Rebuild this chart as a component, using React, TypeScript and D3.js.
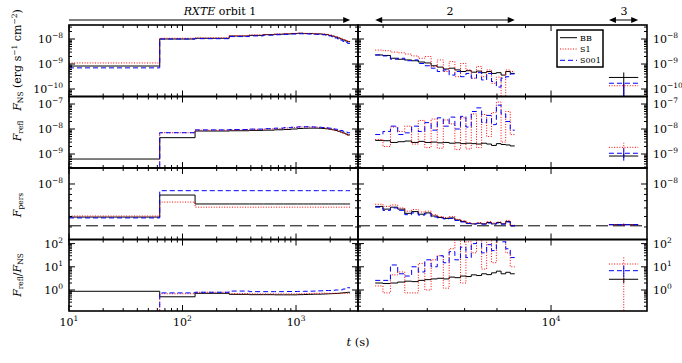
import React from "react";
import * as d3 from "d3";

// time bin edges (s)
const orbit1Edges = [10, 63, 129, 258, 387, 516, 645, 774, 903, 1032, 1161, 1290, 1419, 1548, 1677, 1806, 1935, 2064, 2193, 2322, 2451, 2580, 2709, 2838, 2990];
const orbit2Edges = [4840, 4997, 5154, 5311, 5468, 5625, 5782, 5939, 6096, 6253, 6410, 6567, 6724, 6881, 7038, 7195, 7352, 7509, 7666, 7823, 7980, 8137, 8294, 8451, 8608];
const orbit3Edges = [12700, 14330];
const orbit3Mid = 13500;

const seriesNames = ["BB", "S1", "S001"];

// F_NS
const nsBB1 = [8.3e-10, 1.0e-8, 1.07e-8, 1.32e-8, 1.4e-8, 1.49e-8, 1.55e-8, 1.6e-8, 1.65e-8, 1.7e-8, 1.65e-8, 1.65e-8, 1.6e-8, 1.6e-8, 1.55e-8, 1.5e-8, 1.4e-8, 1.3e-8, 1.2e-8, 1.1e-8, 1.0e-8, 9.1e-9, 8.3e-9, 7.8e-9];
const nsS1_1 = [1.1e-9, 1.07e-8, 1.1e-8, 1.35e-8, 1.45e-8, 1.52e-8, 1.58e-8, 1.63e-8, 1.68e-8, 1.72e-8, 1.68e-8, 1.68e-8, 1.63e-8, 1.63e-8, 1.58e-8, 1.53e-8, 1.43e-8, 1.33e-8, 1.23e-8, 1.13e-8, 1.03e-8, 9.5e-9, 8.7e-9, 8.0e-9];
const nsS001_1 = [7e-10, 1.0e-8, 1.03e-8, 1.25e-8, 1.33e-8, 1.42e-8, 1.48e-8, 1.53e-8, 1.58e-8, 1.62e-8, 1.6e-8, 1.58e-8, 1.55e-8, 1.52e-8, 1.48e-8, 1.43e-8, 1.33e-8, 1.22e-8, 1.1e-8, 1.0e-8, 9.0e-9, 8.0e-9, 7.3e-9, 6.7e-9];
const nsBB2 = [2.3e-9, 2.2e-9, 1.7e-9, 1.55e-9, 1.45e-9, 1.35e-9, 1.2e-9, 1.1e-9, 8.5e-10, 7.5e-10, 6.3e-10, 6.8e-10, 5.8e-10, 5e-10, 5.4e-10, 4.7e-10, 5.2e-10, 4.5e-10, 5e-10, 4.2e-10, 4.5e-10, 3.6e-10, 5e-10, 4.2e-10];
const nsS1_2 = [3.6e-9, 3.4e-9, 3.0e-9, 2.8e-9, 2.5e-9, 2.1e-9, 1.7e-9, 2.0e-9, 8e-10, 1.45e-9, 5e-10, 1.25e-9, 3.1e-10, 1.05e-9, 5.8e-10, 2.7e-10, 8e-10, 3.1e-10, 5.8e-10, 1.7e-10, 3e-10, 1e-11, 5.8e-10, 5e-10];
const nsS001_2 = [2.3e-9, 2.1e-9, 1.55e-9, 1.7e-9, 1.35e-9, 1.45e-9, 1.05e-9, 8.5e-10, 6.8e-10, 5e-10, 5.8e-10, 3.6e-10, 5e-10, 3.1e-10, 4.2e-10, 2.7e-10, 4.5e-10, 2.3e-10, 4.2e-10, 2e-10, 1.2e-10, 2.7e-10, 3.1e-10, 4e-10];
const nsO3 = [2.9e-10, 1.35e-10, 1.7e-10];
const nsO3Err = [[1e-11, 4.6e-10], [1e-11, 1.5e-10], [1e-11, 1.8e-10]];

// F_refl
const reflBB1 = [6.3e-10, 4.5e-9, 8.3e-9, 8.5e-9, 8.8e-9, 9.0e-9, 9.3e-9, 9.6e-9, 1.0e-8, 1.05e-8, 1.07e-8, 1.08e-8, 1.08e-8, 1.07e-8, 1.05e-8, 1.02e-8, 9.8e-9, 9.3e-9, 8.7e-9, 8.1e-9, 7.5e-9, 6.9e-9, 6.3e-9, 5.8e-9];
const reflS1_1 = [1e-11, 7.1e-9, 9.0e-9, 9.3e-9, 9.7e-9, 1.0e-8, 1.05e-8, 1.1e-8, 1.15e-8, 1.2e-8, 1.2e-8, 1.2e-8, 1.18e-8, 1.15e-8, 1.12e-8, 1.08e-8, 1.03e-8, 9.7e-9, 9.0e-9, 8.3e-9, 7.5e-9, 6.8e-9, 6.1e-9, 5.5e-9];
const reflS001_1 = [1e-11, 7.1e-9, 9.2e-9, 9.5e-9, 9.9e-9, 1.03e-8, 1.08e-8, 1.13e-8, 1.18e-8, 1.22e-8, 1.23e-8, 1.22e-8, 1.2e-8, 1.18e-8, 1.15e-8, 1.12e-8, 1.08e-8, 1.03e-8, 9.8e-9, 9.2e-9, 8.7e-9, 8.1e-9, 7.6e-9, 7.1e-9];
const reflBB2 = [3.5e-9, 3.4e-9, 2.9e-9, 3.1e-9, 3.3e-9, 2.9e-9, 3.2e-9, 2.9e-9, 3.0e-9, 2.8e-9, 2.9e-9, 2.7e-9, 2.8e-9, 2.6e-9, 2.7e-9, 2.6e-9, 2.5e-9, 2.7e-9, 2.5e-9, 2.2e-9, 2.6e-9, 2.4e-9, 2.3e-9, 2.1e-9];
const reflS1_2 = [3.8e-9, 2.0e-9, 1.2e-8, 8e-9, 1.3e-8, 2.5e-9, 2.2e-8, 1.8e-9, 2.5e-8, 1.7e-9, 2.3e-8, 1.6e-8, 1.5e-9, 2.8e-8, 1.6e-9, 4e-8, 1.8e-9, 3.8e-8, 5e-9, 4.5e-8, 1.2e-7, 3e-9, 5e-8, 6e-9];
const reflS001_2 = [6e-9, 8e-9, 1.3e-8, 6e-9, 7e-9, 1.3e-8, 8e-9, 1.8e-8, 9e-9, 2.8e-8, 1.3e-8, 3e-8, 1e-8, 3.2e-8, 1.2e-8, 5e-8, 7e-8, 1.8e-8, 3.5e-8, 1.5e-8, 9e-8, 4e-8, 2e-8, 9e-9];
const reflO3 = [8.3e-10, 1.85e-9, 1.07e-9];
const reflO3Err = [[7e-10, 1e-9], [1.0e-9, 2.8e-9], [5.4e-10, 1.7e-9]];

// F_pers
const persBB1 = [4.94e-9, 7.9e-9, 6.53e-9, 6.53e-9, 6.53e-9, 6.53e-9, 6.53e-9, 6.53e-9, 6.53e-9, 6.53e-9, 6.53e-9, 6.53e-9, 6.53e-9, 6.53e-9, 6.53e-9, 6.53e-9, 6.53e-9, 6.53e-9, 6.53e-9, 6.53e-9, 6.53e-9, 6.53e-9, 6.53e-9, 6.53e-9];
const persS1_1 = [5.05e-9, 6.8e-9, 6.1e-9, 6.1e-9, 6.1e-9, 6.1e-9, 6.1e-9, 6.1e-9, 6.1e-9, 6.1e-9, 6.1e-9, 6.1e-9, 6.1e-9, 6.1e-9, 6.1e-9, 6.1e-9, 6.1e-9, 6.1e-9, 6.1e-9, 6.1e-9, 6.1e-9, 6.1e-9, 6.1e-9, 6.1e-9];
const persS001_1 = [4.85e-9, 8.67e-9, 8.67e-9, 8.67e-9, 8.67e-9, 8.67e-9, 8.67e-9, 8.67e-9, 8.67e-9, 8.67e-9, 8.67e-9, 8.67e-9, 8.67e-9, 8.67e-9, 8.67e-9, 8.67e-9, 8.67e-9, 8.67e-9, 8.67e-9, 8.67e-9, 8.67e-9, 8.67e-9, 8.67e-9, 8.67e-9];
const persBB2 = [6.2e-9, 5.85e-9, 6.1e-9, 5.85e-9, 5.35e-9, 5.55e-9, 5.25e-9, 5.4e-9, 5.05e-9, 4.9e-9, 4.8e-9, 4.85e-9, 4.64e-9, 4.5e-9, 4.33e-9, 4.27e-9, 4.33e-9, 4.27e-9, 4.4e-9, 4.27e-9, 4.4e-9, 4.27e-9, 4.5e-9, 4.1e-9];
const persS1_2 = [6.5e-9, 6.2e-9, 6.4e-9, 6.0e-9, 5.6e-9, 5.8e-9, 5.5e-9, 5.6e-9, 5.2e-9, 5.0e-9, 4.9e-9, 5.0e-9, 4.7e-9, 4.6e-9, 4.4e-9, 4.3e-9, 4.4e-9, 4.3e-9, 4.5e-9, 4.35e-9, 4.45e-9, 4.3e-9, 4.6e-9, 4.15e-9];
const persS001_2 = [6.1e-9, 5.7e-9, 6.0e-9, 5.7e-9, 5.2e-9, 5.4e-9, 5.15e-9, 5.3e-9, 4.95e-9, 4.85e-9, 4.75e-9, 4.8e-9, 4.6e-9, 4.45e-9, 4.3e-9, 4.25e-9, 4.3e-9, 4.25e-9, 4.35e-9, 4.25e-9, 4.35e-9, 4.25e-9, 4.45e-9, 4.1e-9];
const persO3 = [4.2e-9, 4.2e-9, 4.2e-9];
const persO3Err = [[4.15e-9, 4.25e-9], [4.12e-9, 4.28e-9], [4.1e-9, 4.3e-9]];
const persLevel = 4.1e-9;

// F_refl / F_NS
const ratioBB1 = [0.88, 0.51, 0.72, 0.65, 0.63, 0.63, 0.62, 0.62, 0.62, 0.63, 0.64, 0.65, 0.66, 0.66, 0.67, 0.68, 0.69, 0.7, 0.71, 0.72, 0.74, 0.76, 0.78, 0.8];
const ratioS1_1 = [0.01, 0.69, 0.8, 0.7, 0.68, 0.68, 0.68, 0.68, 0.68, 0.69, 0.7, 0.71, 0.72, 0.72, 0.73, 0.72, 0.72, 0.72, 0.72, 0.73, 0.73, 0.72, 0.72, 0.7];
const ratioS001_1 = [0.01, 0.75, 0.8, 0.9, 0.85, 0.85, 0.85, 0.86, 0.86, 0.87, 0.88, 0.89, 0.9, 0.92, 0.93, 0.95, 0.95, 0.97, 1.0, 1.0, 1.02, 1.1, 1.2, 1.25];
const ratioBB2 = [2.0, 1.9, 2.0, 2.2, 2.4, 2.3, 2.6, 2.8, 3.0, 3.2, 3.0, 3.6, 3.4, 4.0, 3.8, 4.5, 4.2, 5.0, 4.6, 5.5, 6.5, 5.0, 5.8, 5.0];
const ratioS1_2 = [1.5, 0.75, 4.5, 6, 0.75, 0.75, 14, 1.0, 20, 30, 1.2, 60, 150, 2, 120, 40, 150, 8, 160, 15, 200, 300, 40, 10];
const ratioS001_2 = [2.6, 2.6, 12, 5, 4, 10, 6, 20, 10, 30, 15, 45, 20, 70, 25, 100, 150, 40, 90, 50, 200, 120, 60, 25];
const ratioO3 = [2.9, 13.2, 6.8];
const ratioO3Err = [[2.0, 3.5], [0.01, 26], [3.6, 11]];

const FONT = "DejaVu Serif";
const LEFT = 69;
const MID = 358;
const RIGHT = 647;
const panelEdges = [25, 96.5, 168, 239.5, 311];
const colors = ["#000000", "#ff0000", "#0000ff"];
const dashes = ["", "1,1.6", "5,3"];

const xLeft = d3.scaleLog().domain([10, Math.pow(10, 3.546)]).range([LEFT, MID]);
const xRight = d3.scaleLog().domain([Math.pow(10, 3.654), Math.pow(10, 4.172)]).range([MID, RIGHT]);

const panels = [
  { dom: [Math.pow(10, -10.3), Math.pow(10, -7.44)], o1: [nsBB1, nsS1_1, nsS001_1], o2: [nsBB2, nsS1_2, nsS001_2], o3: nsO3, err: nsO3Err },
  { dom: [Math.pow(10, -9.56), Math.pow(10, -6.7)], o1: [reflBB1, reflS1_1, reflS001_1], o2: [reflBB2, reflS1_2, reflS001_2], o3: reflO3, err: reflO3Err },
  { dom: [Math.pow(10, -8.514), Math.pow(10, -7.852)], o1: [persBB1, persS1_1, persS001_1], o2: [persBB2, persS1_2, persS001_2], o3: persO3, err: persO3Err },
  { dom: [Math.pow(10, -0.905), Math.pow(10, 2.177)], o1: [ratioBB1, ratioS1_1, ratioS001_1], o2: [ratioBB2, ratioS1_2, ratioS001_2], o3: ratioO3, err: ratioO3Err },
];

const halves = [
  { key: "L", x: xLeft, x0: LEFT, x1: MID },
  { key: "R", x: xRight, x0: MID, x1: RIGHT },
];

function logTicks(lo: number, hi: number) {
  const out: { v: number; major: boolean; k: number }[] = [];
  for (let k = Math.floor(Math.log10(lo)); k <= Math.ceil(Math.log10(hi)); k++) {
    for (let m = 1; m < 10; m++) {
      const v = m * Math.pow(10, k);
      if (v >= lo * 0.9999 && v <= hi * 1.0001) out.push({ v, major: m === 1, k });
    }
  }
  return out;
}

function stepPath(edges: number[], vals: number[], x: any, y: any) {
  const pts = edges.map((e, i) => [x(e), y(vals[Math.min(i, vals.length - 1)])] as [number, number]);
  return d3.line().curve(d3.curveStepAfter)(pts) || "";
}

const expStr = (k: number) => (k < 0 ? "\u2212" + Math.abs(k) : String(k));

function Pow({ x, y, k, anchor }: { x: number; y: number; k: number; anchor: string }) {
  return (
    <text x={x} y={y} textAnchor={anchor} fontSize={11}>
      10<tspan dy={-5} fontSize={7.5}>{expStr(k)}</tspan>
    </text>
  );
}

function Arrow({ a, b, y, left, right }: { a: number; b: number; y: number; left: boolean; right: boolean }) {
  return (
    <g>
      <line x1={left ? a + 5 : a} x2={right ? b - 5 : b} y1={y} y2={y} stroke="#000" strokeWidth={1} />
      {left && <polygon points={`${a},${y} ${a + 7},${y - 3} ${a + 7},${y + 3}`} fill="#000" />}
      {right && <polygon points={`${b},${y} ${b - 7},${y - 3} ${b - 7},${y + 3}`} fill="#000" />}
    </g>
  );
}

export default function App() {
  const clips: JSX.Element[] = [];
  const content: JSX.Element[] = [];

  panels.forEach((p, i) => {
    const top = panelEdges[i];
    const bottom = panelEdges[i + 1];
    const y = d3.scaleLog().domain(p.dom).range([bottom, top]);
    const yt = logTicks(p.dom[0], p.dom[1]);

    halves.forEach((h) => {
      const id = `clip-${i}-${h.key}`;
      clips.push(<clipPath id={id} key={id}><rect x={h.x0} y={top} width={h.x1 - h.x0} height={bottom - top} /></clipPath>);
      const marks: JSX.Element[] = [];

      if (i === 2) {
        marks.push(<line key="lvl" x1={h.x0} x2={h.x1} y1={y(persLevel)} y2={y(persLevel)} stroke="#000" strokeWidth={1} strokeDasharray="12,5" />);
      }
      if (h.key === "L") {
        p.o1.forEach((vals, s) => {
          marks.push(<path key={"o1" + s} d={stepPath(orbit1Edges, vals, h.x, y)} fill="none" stroke={colors[s]} strokeWidth={1} strokeDasharray={dashes[s] || undefined} />);
        });
      } else {
        p.o2.forEach((vals, s) => {
          marks.push(<path key={"o2" + s} d={stepPath(orbit2Edges, vals, h.x, y)} fill="none" stroke={colors[s]} strokeWidth={1} strokeDasharray={dashes[s] || undefined} />);
        });
        p.o3.forEach((v, s) => {
          marks.push(
            <g key={"o3" + s}>
              <line x1={h.x(orbit3Edges[0])} x2={h.x(orbit3Edges[1])} y1={y(v)} y2={y(v)} stroke={colors[s]} strokeWidth={1} strokeDasharray={dashes[s] || undefined} />
              <line x1={h.x(orbit3Mid)} x2={h.x(orbit3Mid)} y1={y(p.err[s][0])} y2={y(p.err[s][1])} stroke={colors[s]} strokeWidth={1} strokeDasharray={s === 1 ? dashes[s] : undefined} />
            </g>
          );
        });
      }

      const xt = logTicks(h.x.domain()[0], h.x.domain()[1]);
      content.push(
        <g key={`p${i}${h.key}`}>
          <g clipPath={`url(#${id})`}>{marks}</g>
          {xt.map((t, j) => {
            const len = t.major ? 6 : 3;
            const xx = h.x(t.v);
            return (
              <g key={"xt" + j}>
                <line x1={xx} x2={xx} y1={top} y2={top + len} stroke="#000" strokeWidth={1} />
                <line x1={xx} x2={xx} y1={bottom} y2={bottom - len} stroke="#000" strokeWidth={1} />
              </g>
            );
          })}
          {yt.map((t, j) => {
            const len = t.major ? 6 : 3;
            const yy = y(t.v);
            return (
              <g key={"yt" + j}>
                <line x1={h.x0} x2={h.x0 + len} y1={yy} y2={yy} stroke="#000" strokeWidth={1} />
                <line x1={h.x1} x2={h.x1 - len} y1={yy} y2={yy} stroke="#000" strokeWidth={1} />
              </g>
            );
          })}
          {yt.filter((t) => t.major).map((t, j) =>
            h.key === "L" ? (
              <Pow key={"yl" + j} x={h.x0 - 6} y={y(t.v) + 4} k={t.k} anchor="end" />
            ) : (
              <Pow key={"yl" + j} x={h.x1 + 6} y={y(t.v) + 4} k={t.k} anchor="start" />
            )
          )}
          {i === 3 && xt.filter((t) => t.major).map((t, j) => (
            <Pow key={"xl" + j} x={h.x(t.v)} y={326} k={t.k} anchor="middle" />
          ))}
          <rect x={h.x0} y={top} width={h.x1 - h.x0} height={bottom - top} fill="none" stroke="#000" strokeWidth={1.6} />
        </g>
      );
    });
  });

  return (
    <svg width={682} height={363} style={{ position: "absolute", left: 0, top: 0, background: "#fff" }} fontFamily={FONT}>
      <defs>{clips}</defs>
      <rect x={0} y={0} width={682} height={363} fill="#fff" />
      {content}

      {/* orbit annotations */}
      <Arrow a={xLeft(orbit1Edges[0])} b={xLeft(3000)} y={20} left={false} right={true} />
      <text x={220} y={15} textAnchor="middle" fontSize={11}>
        <tspan fontStyle="italic">RXTE</tspan> orbit 1
      </text>
      <Arrow a={xRight(orbit2Edges[0])} b={xRight(orbit2Edges[orbit2Edges.length - 1])} y={20} left={true} right={true} />
      <text x={450} y={15} textAnchor="middle" fontSize={11}>2</text>
      <Arrow a={xRight(orbit3Edges[0])} b={xRight(orbit3Edges[1])} y={20} left={true} right={true} />
      <text x={624} y={15} textAnchor="middle" fontSize={11}>3</text>

      {/* legend */}
      <rect x={557} y={30} width={46} height={37} fill="#fff" stroke="#000" strokeWidth={1.5} />
      {seriesNames.map((n, s) => (
        <g key={n}>
          <line x1={560} x2={577} y1={37.7 + s * 11.3} y2={37.7 + s * 11.3} stroke={colors[s]} strokeWidth={1} strokeDasharray={dashes[s] || undefined} />
          <text x={580} y={40.5 + s * 11.3} fontSize={8}>{n}</text>
        </g>
      ))}

      {/* y labels */}
      <text transform="translate(21,60) rotate(-90)" textAnchor="middle" fontSize={11}>
        <tspan fontStyle="italic">F</tspan>
        <tspan fontSize={7.5} dy={2}>NS</tspan>
        <tspan dy={-2}> (erg s</tspan>
        <tspan fontSize={7.5} dy={-4}>{"\u22121"}</tspan>
        <tspan dy={4}> cm</tspan>
        <tspan fontSize={7.5} dy={-4}>{"\u22122"}</tspan>
        <tspan dy={4}>)</tspan>
      </text>
      <text transform="translate(21,131) rotate(-90)" textAnchor="middle" fontSize={11}>
        <tspan fontStyle="italic">F</tspan>
        <tspan fontSize={7.5} dy={2}>refl</tspan>
      </text>
      <text transform="translate(21,205) rotate(-90)" textAnchor="middle" fontSize={11}>
        <tspan fontStyle="italic">F</tspan>
        <tspan fontSize={7.5} dy={2}>pers</tspan>
      </text>
      <text transform="translate(21,275) rotate(-90)" textAnchor="middle" fontSize={11}>
        <tspan fontStyle="italic">F</tspan>
        <tspan fontSize={7.5} dy={2}>refl</tspan>
        <tspan dy={-2}>/</tspan>
        <tspan fontStyle="italic">F</tspan>
        <tspan fontSize={7.5} dy={2}>NS</tspan>
      </text>

      {/* x label */}
      <text x={358} y={346} textAnchor="middle" fontSize={11.5}>
        <tspan fontStyle="italic">t</tspan> (s)
      </text>
    </svg>
  );
}
